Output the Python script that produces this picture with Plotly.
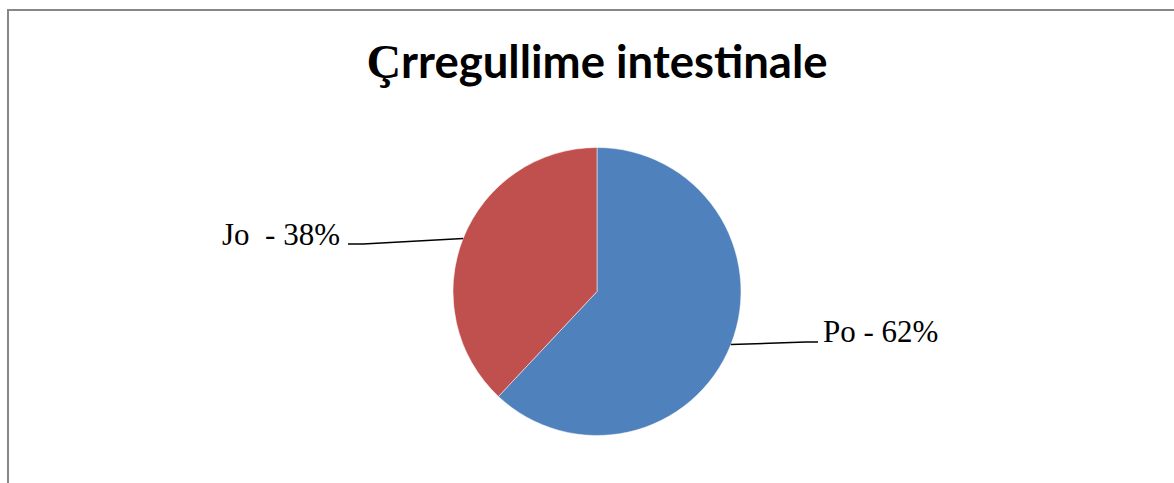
import math
import plotly.graph_objects as go

# ---- data ----
title_text = "Çrregullime intestinale"
categories = ["Po", "Jo"]
values = [62, 38]
colors = ["#4F81BD", "#C0504D"]

# ---- layout constants (pixels) ----
W, H = 1174, 483
CX, CY, R = 597, 291.5, 144
# label anchor: (elbow_x, elbow_y, line_end_x, text_x, text_y, xanchor)
LABEL_GEOM = {
    "Jo": (363, 244, 348, 342, 234, "right"),
    "Po": (806, 342, 818, 821, 331, "left"),
}

def px(x):
    return x / W

def py(y):
    return 1 - y / H

fig = go.Figure()
fig.add_trace(go.Pie(
    labels=categories,
    values=values,
    sort=False,
    direction="clockwise",
    rotation=0,
    marker=dict(colors=colors, line=dict(color="#FFFFFF", width=0.5)),
    textinfo="none",
    hoverinfo="label+percent",
    showlegend=False,
    domain=dict(x=[px(CX - R), px(CX + R)], y=[py(CY + R), py(CY - R)]),
))

shapes = []
annotations = []
total = sum(values)
cum = 0.0
for cat, val in zip(categories, values):
    mid = (cum + val / 2) / total * 2 * math.pi  # clockwise from 12 o'clock
    cum += val
    ex = CX + R * math.sin(mid)
    ey = CY - R * math.cos(mid)
    elx, ely, endx, tx, ty, xa = LABEL_GEOM[cat]
    pct = round(val / total * 100)
    shapes.append(dict(type="path", xref="paper", yref="paper",
                       path=f"M {px(ex)},{py(ey)} L {px(elx)},{py(ely)} L {px(endx)},{py(ely)}",
                       line=dict(color="#000000", width=1.5)))
    label = f"{cat}  - {pct}%" if cat == "Jo" else f"{cat} - {pct}%"
    annotations.append(dict(x=px(tx), y=py(ty), xref="paper", yref="paper",
                            text=label, showarrow=False, xanchor=xa, yanchor="middle",
                            font=dict(family="Liberation Serif, Times New Roman, serif",
                                      size=31, color="#000000")))

# chart frame
shapes.append(dict(type="rect", xref="paper", yref="paper",
                   x0=px(8), x1=px(1190), y0=py(500), y1=py(10),
                   line=dict(color="#878787", width=2), fillcolor="rgba(0,0,0,0)"))

fig.update_layout(
    width=W, height=H, autosize=False,
    margin=dict(l=0, r=0, t=0, b=0),
    paper_bgcolor="#FFFFFF", plot_bgcolor="#FFFFFF",
    title=dict(
        text="<b><span style=\"font-family:Liberation Serif;font-size:48px\">" + title_text[0] + "</span>" + title_text[1:] + "</b>",
        x=px(597), xanchor="center", y=py(62), yanchor="middle",
        font=dict(family="Lato, Carlito, Calibri, sans-serif", size=45.5, color="#000000"),
    ),
    shapes=shapes,
    annotations=annotations,
)

fig.write_html("out.html")
